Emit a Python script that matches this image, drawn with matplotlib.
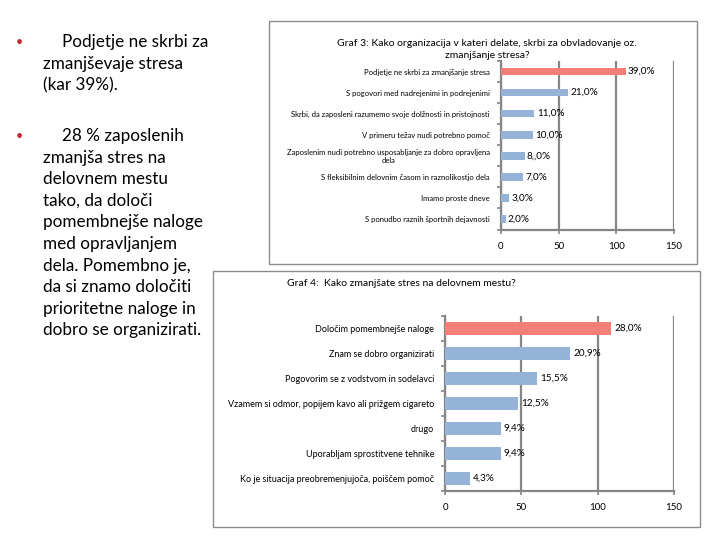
import matplotlib
matplotlib.use("Agg")
import matplotlib.pyplot as plt
from matplotlib.patches import Rectangle
import numpy as np

plt.rcParams["font.family"] = ["Lato", "DejaVu Sans"]

# Graf 3
g3_labels = [
    "Podjetje ne skrbi za zmanjšanje stresa",
    "S pogovori med nadrejenimi in podrejenimi",
    "Skrbi, da zaposleni razumemo svoje dolžnosti in pristojnosti",
    "V primeru težav nudi potrebno pomoč",
    "Zaposlenim nudi potrebno usposabljanje za dobro opravljena\ndela",
    "S fleksibilnim delovnim časom in raznolikostjo dela",
    "Imamo proste dneve",
    "S ponudbo raznih športnih dejavnosti",
]
g3_values = [108, 58.5, 29, 28, 20.5, 19.5, 7, 4]
g3_texts = ["39,0%", "21,0%", "11,0%", "10,0%", "8,,0%", "7,0%", "3,0%", "2,0%"]

# Graf 4
g4_labels = [
    "Določim pomembnejše naloge",
    "Znam se dobro organizirati",
    "Pogovorim se z vodstvom in sodelavci",
    "Vzamem si odmor, popijem kavo ali prižgem cigareto",
    "drugo",
    "Uporabljam sprostitvene tehnike",
    "Ko je situacija preobremenjujoča, poiščem pomoč",
]
g4_values = [109, 82, 60.5, 48, 36.5, 36.5, 16]
g4_texts = ["28,0%", "20,9%", "15,5%", "12,5%", "9,4%", "9,4%", "4,3%"]

xticks = [0, 50, 100, 150]

para1 = ["Podjetje ne skrbi za", "zmanjševaje stresa", "(kar 39%)."]
para2 = ["28 % zaposlenih", "zmanjša stres na", "delovnem mestu", "tako, da določi",
         "pomembnejše naloge", "med opravljanjem", "dela. Pomembno je,",
         "da si znamo določiti", "prioritetne naloge in", "dobro se organizirati."]

RED = "#F47F76"
BLUE = "#95B3D7"
GRID = "#868686"

W, H = 720, 540
fig = plt.figure(figsize=(7.2, 5.4), dpi=100)


def fx(px):
    return px / W


def fy(py):
    return 1 - py / H


# left text column
def paragraph(lines, y0):
    fig.text(fx(16), fy(y0), "•", color="#C0262D", fontsize=9, va="center")
    for i, line in enumerate(lines):
        x = 62 if i == 0 else 43
        fig.text(fx(x), fy(y0 + i * 21.6), line, fontsize=12.3, va="center", color="black")


paragraph(para1, 42)
paragraph(para2, 136)

# frames
for (x0, y0, x1, y1) in [(269, 21, 697, 264), (213, 271, 700, 527)]:
    fig.add_artist(Rectangle((fx(x0), fy(y1)), fx(x1) - fx(x0), (y1 - y0) / H,
                             transform=fig.transFigure, fill=False,
                             edgecolor="#8c8c8c", linewidth=1))


def bar_chart(ax, labels, values, texts, height, lab_size, val_size):
    n = len(labels)
    y = np.arange(n)
    colors = [RED] + [BLUE] * (n - 1)
    ax.barh(y, values, height=height, color=colors, zorder=3)
    ax.set_xlim(0, 150)
    ax.set_ylim(n - 0.5, -0.5)
    ax.set_xticks(xticks)
    ax.set_xticklabels([str(t) for t in xticks], fontsize=7)
    ax.set_yticks(y)
    ax.set_yticklabels(labels, fontsize=lab_size, multialignment="center")
    ax.set_yticks(np.arange(n + 1) - 0.5, minor=True)
    ax.tick_params(axis="y", which="major", length=0, pad=8)
    ax.tick_params(axis="y", which="minor", length=3, color=GRID, width=1.2)
    ax.tick_params(axis="x", length=3, color=GRID, width=1.2, pad=6)
    ax.grid(axis="x", color=GRID, linewidth=1.6, zorder=1)
    for s in ["top", "right"]:
        ax.spines[s].set_visible(False)
    for s in ["left", "bottom"]:
        ax.spines[s].set_color(GRID)
        ax.spines[s].set_linewidth(1.6)
    for yi, v, t in zip(y, values, texts):
        ax.text(v + 2, yi, t, fontsize=val_size, va="center", ha="left")


ax3 = fig.add_axes([fx(501), fy(229.5), fx(674) - fx(501), (229.5 - 61) / H])
bar_chart(ax3, g3_labels, g3_values, g3_texts, 0.36, 5.5, 7.2)
fig.text(fx(487), fy(49.5), "Graf 3: Kako organizacija v kateri delate, skrbi za obvladovanje oz.\nzmanjšanje stresa?",
         ha="center", va="center", fontsize=7.5, linespacing=1.5)

ax4 = fig.add_axes([fx(445.3), fy(491), fx(673.7) - fx(445.3), (491 - 316) / H])
bar_chart(ax4, g4_labels, g4_values, g4_texts, 0.52, 6.5, 7.2)
fig.text(fx(287), fy(284), "Graf 4:  Kako zmanjšate stres na delovnem mestu?",
         ha="left", va="center", fontsize=7.5)

fig.savefig("out.png", dpi=100)
